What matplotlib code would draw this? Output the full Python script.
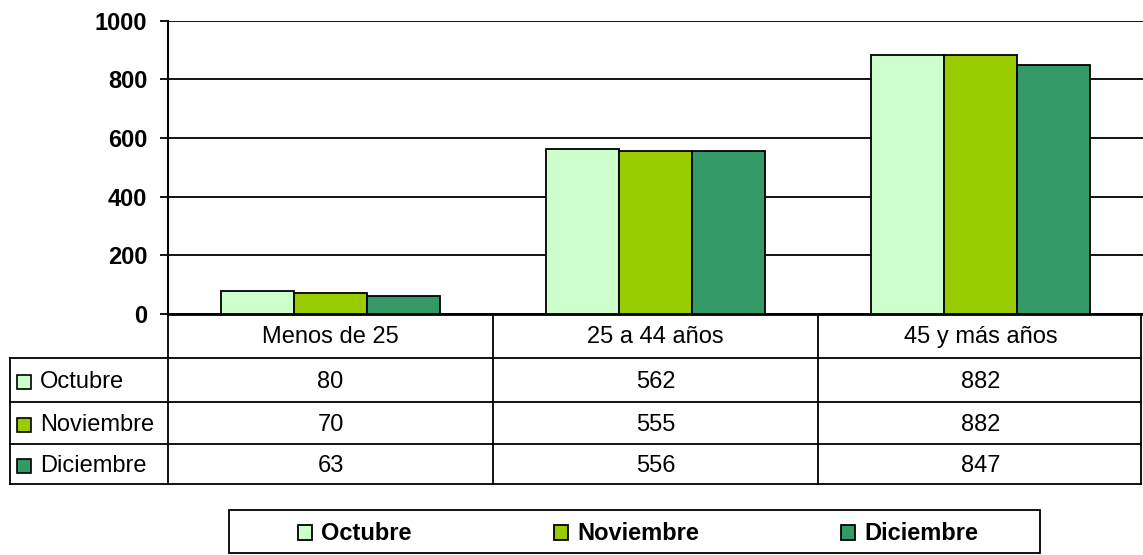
import matplotlib
matplotlib.use("Agg")
import matplotlib.pyplot as plt
from matplotlib.patches import Rectangle

plt.rcParams['font.family'] = ['Liberation Sans', 'DejaVu Sans']

categorias = ['Menos de 25', '25 a 44 años', '45 y más años']
meses = ['Octubre', 'Noviembre', 'Diciembre']
octubre = [80, 562, 882]
noviembre = [70, 555, 882]
diciembre = [63, 556, 847]
colores = ['#CCFFCC', '#99CC00', '#339966']
y_ticks = [0, 200, 400, 600, 800, 1000]

series = [octubre, noviembre, diciembre]

W, H = 1143, 555
FS = 17


def fx(px):
    return px / W


def fy(py):
    return 1 - py / H


fig = plt.figure(figsize=(W / 100, H / 100), dpi=100)

# area del grafico
ax = fig.add_axes([fx(168), fy(314), fx(1143) - fx(168), (314 - 20.5) / H])
ancho = 0.225
barras = []
for i, (vals, col) in enumerate(zip(series, colores)):
    xs = [k + (i - 1) * ancho for k in range(len(categorias))]
    b = ax.bar(xs, vals, width=ancho, color=col, edgecolor='black', linewidth=1.3, zorder=3)
    barras.append(b)

ax.set_xlim(-0.5, 2.5)
ax.set_ylim(0, 1000)
ax.set_yticks(y_ticks)
ax.set_yticklabels([str(t) for t in y_ticks], fontsize=FS, fontweight='bold')
ax.tick_params(axis='y', length=6, width=1.3, pad=9, color='black')
ax.set_xticks([])
ax.grid(axis='y', color='black', linewidth=1.3, zorder=0)
for s in ['top', 'right']:
    ax.spines[s].set_visible(False)
ax.spines['left'].set_linewidth(1.5)
ax.spines['bottom'].set_linewidth(2)

# tabla de datos
tab = fig.add_axes([fx(10), fy(484), fx(1143) - fx(10), (484 - 314) / H])
x_izq = -0.5 - 158 / 325
x_der = 2.5 - 2 / 325
tab.set_xlim(x_izq, 2.5)
tab.set_ylim(484, 314)
tab.axis('off')

filas = [358, 402, 444, 484]
lw = 1.3
for yy in filas:
    tab.plot([x_izq, x_der], [yy, yy], color='black', lw=lw, clip_on=False)
tab.plot([x_izq, x_izq], [358, 484], color='black', lw=lw, clip_on=False)
for xx in [-0.5, 0.5, 1.5, x_der]:
    tab.plot([xx, xx], [314, 484], color='black', lw=lw, clip_on=False)

for k, cat in enumerate(categorias):
    tab.text(k, 337, cat, ha='center', va='center', fontsize=FS)

tops = [358, 402, 444]
for i, (mes, vals, col) in enumerate(zip(meses, series, colores)):
    yc = (tops[i] + filas[i + 1]) / 2 + 2
    tab.add_patch(Rectangle((x_izq + 7 / 325, yc - 7), 14 / 325, 14,
                            facecolor=col, edgecolor='black', lw=1.2, clip_on=False))
    tab.text(x_izq + 30 / 325, yc, mes, ha='left', va='center', fontsize=FS)
    for k, v in enumerate(vals):
        tab.text(k, yc, str(v), ha='center', va='center', fontsize=FS)

# leyenda
fig.patches.append(Rectangle((fx(229), fy(553)), fx(1040) - fx(229), (553 - 510) / H,
                             transform=fig.transFigure, facecolor='white',
                             edgecolor='black', lw=1.3))
fig.legend([b[0] for b in barras], meses, loc='center',
           bbox_to_anchor=(fx(638), fy(534)), ncol=3, frameon=False,
           prop={'size': FS, 'weight': 'bold'}, handlelength=0.6, handleheight=0.6,
           handletextpad=0.4, columnspacing=6.0, borderpad=0)

fig.savefig('out.png', dpi=100)
